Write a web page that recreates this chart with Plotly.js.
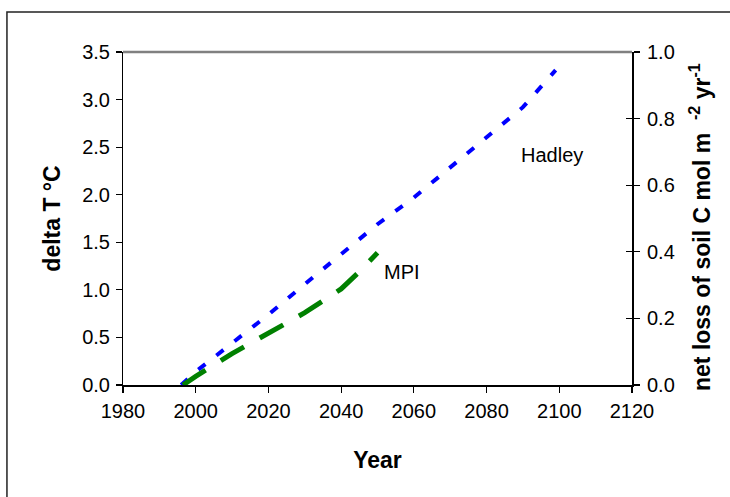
<!DOCTYPE html>
<html>
<head>
<meta charset="utf-8">
<script src="https://cdn.plot.ly/plotly-3.0.1.min.js"></script>
<style>
  html, body { margin: 0; padding: 0; background: #fff; }
  #chart { width: 730px; height: 497px; }
</style>
</head>
<body>
<div id="chart"></div>
<script>
// Hadley model (delta T, °C)
const hadleyYears = [1996, 2000, 2010, 2020, 2030, 2040, 2050, 2060, 2070, 2080, 2090, 2099];
const hadleyValues = [0.0, 0.14, 0.44, 0.74, 1.06, 1.37, 1.69, 1.97, 2.29, 2.61, 2.92, 3.31];
// MPI model (delta T, °C)
const mpiYears = [1996.5, 2000, 2010, 2020, 2030, 2040, 2045, 2050];
const mpiValues = [0.0, 0.09, 0.33, 0.55, 0.76, 1.01, 1.19, 1.39];

const seriesNames = ['Hadley', 'MPI'];
const xTickVals = [1980, 2000, 2020, 2040, 2060, 2080, 2100, 2120];
const leftTickVals = [0, 0.5, 1.0, 1.5, 2.0, 2.5, 3.0, 3.5];
const rightTickVals = [0, 0.2, 0.4, 0.6, 0.8, 1.0];
const rightTitle = '<b>net loss of soil C mol m  <sup>-2</sup> yr<sup>-1</sup></b>';

const FONT = 'Liberation Sans, Arial, sans-serif';
const ML = 110, MR = 84, MT = 52, MB = 100;
const PW = 730 - ML - MR, PH = 497 - MT - MB;
const XDOM = [(123 - ML) / PW, (632 - ML) / PW];
const YDOM = [(497 - MB - 385) / PH, 1];

const traces = [
  {
    x: hadleyYears, y: hadleyValues, name: seriesNames[0],
    type: 'scatter', mode: 'lines',
    line: { color: '#0000FF', width: 4, dash: '9px,14px' },
    xaxis: 'x', yaxis: 'y'
  },
  {
    x: mpiYears, y: mpiValues, name: seriesNames[1],
    type: 'scatter', mode: 'lines',
    line: { color: '#008000', width: 5, dash: '27px,18px' },
    xaxis: 'x', yaxis: 'y'
  },
  // empty traces so that the extra axes (labels, right scale, tick marks) are drawn
  { x: [null], y: [null], type: 'scatter', mode: 'lines', xaxis: 'x', yaxis: 'y2', hoverinfo: 'skip', showlegend: false },
  { x: [null], y: [null], type: 'scatter', mode: 'lines', xaxis: 'x', yaxis: 'y3', hoverinfo: 'skip', showlegend: false },
  { x: [null], y: [null], type: 'scatter', mode: 'lines', xaxis: 'x', yaxis: 'y4', hoverinfo: 'skip', showlegend: false },
  { x: [null], y: [null], type: 'scatter', mode: 'lines', xaxis: 'x', yaxis: 'y5', hoverinfo: 'skip', showlegend: false },
  { x: [null], y: [null], type: 'scatter', mode: 'lines', xaxis: 'x2', yaxis: 'y', hoverinfo: 'skip', showlegend: false }
];

const layout = {
  width: 730, height: 497,
  margin: { l: ML, r: MR, t: MT, b: MB },
  paper_bgcolor: '#ffffff', plot_bgcolor: '#ffffff',
  showlegend: false,
  font: { family: FONT, size: 20, color: '#000' },
  // x axis line and tick marks
  xaxis: {
    domain: XDOM, range: [1980, 2120], tickvals: xTickVals, anchor: 'y4',
    showgrid: false, zeroline: false, showline: true, linecolor: '#000', linewidth: 1.5,
    ticks: 'outside', ticklen: 6, tickcolor: '#000', tickwidth: 1.2,
    showticklabels: false, automargin: false
  },
  // x tick labels and title
  xaxis2: {
    domain: XDOM, range: [1980, 2120], tickvals: xTickVals, ticktext: xTickVals.map(String),
    overlaying: 'x', anchor: 'free', position: 0, side: 'bottom',
    showgrid: false, zeroline: false, showline: false, ticks: '',
    tickfont: { family: FONT, size: 20 },
    title: { text: '<b>Year</b>', font: { family: FONT, size: 23 }, standoff: 30 },
    automargin: false
  },
  // left tick labels and title
  yaxis: {
    domain: YDOM, range: [0, 3.5], tickvals: leftTickVals, ticktext: leftTickVals.map(v => v.toFixed(1)),
    anchor: 'free', position: 0, side: 'left',
    showgrid: false, zeroline: false, showline: false, ticks: '',
    tickfont: { family: FONT, size: 20 },
    title: { text: '<b>delta T °C</b>', font: { family: FONT, size: 23 }, standoff: 14 },
    automargin: false
  },
  // left axis line and tick marks
  yaxis4: {
    domain: YDOM, range: [0, 3.5], tickvals: leftTickVals, overlaying: 'y', side: 'left', anchor: 'x',
    showgrid: false, zeroline: false, showline: true, linecolor: '#000', linewidth: 1.5,
    ticks: 'outside', ticklen: 6, tickcolor: '#000', tickwidth: 1.2,
    showticklabels: false, automargin: false
  },
  // right scale tick labels
  yaxis2: {
    domain: YDOM, range: [0, 1], tickvals: rightTickVals, ticktext: rightTickVals.map(v => v.toFixed(1)),
    overlaying: 'y', side: 'right', anchor: 'free', position: 1,
    showgrid: false, zeroline: false, showline: false, ticks: '',
    tickfont: { family: FONT, size: 20 },
    automargin: false
  },
  // right axis line and outward tick marks
  yaxis3: {
    domain: YDOM, range: [0, 1], tickvals: rightTickVals,
    overlaying: 'y', side: 'right', anchor: 'x',
    showgrid: false, zeroline: false, showline: true, linecolor: '#000', linewidth: 1.5,
    ticks: 'outside', ticklen: 6, tickcolor: '#000', tickwidth: 1.2,
    showticklabels: false, automargin: false
  },
  // inward half of the crossing right tick marks
  yaxis5: {
    domain: YDOM, range: [0, 1], tickvals: rightTickVals,
    overlaying: 'y', side: 'right', anchor: 'x',
    showgrid: false, zeroline: false, showline: false,
    ticks: 'inside', ticklen: 6, tickcolor: '#000', tickwidth: 1.2,
    showticklabels: false, automargin: false
  },
  annotations: [
    { x: 2098, y: 2.42, xref: 'x', yref: 'y', text: seriesNames[0], showarrow: false,
      font: { family: FONT, size: 20, color: '#000' } },
    { x: 2056.8, y: 1.19, xref: 'x', yref: 'y', text: seriesNames[1], showarrow: false,
      font: { family: FONT, size: 20, color: '#000' } },
    // right-axis title
    { x: (700 - ML) / PW, y: (497 - MB - 227) / PH, xref: 'paper', yref: 'paper',
      xanchor: 'center', yanchor: 'middle', textangle: -90, showarrow: false,
      text: rightTitle, font: { family: FONT, size: 23, color: '#000' } }
  ],
  shapes: [
    { type: 'line', xref: 'x domain', yref: 'y domain', x0: 0, x1: 1, y0: 1, y1: 1,
      line: { color: '#808080', width: 2.5 } },
    { type: 'path', xref: 'x domain', yref: 'y domain',
      path: 'M -0.228 -0.6 L -0.228 1.12 L 1.3 1.12',
      line: { color: '#222', width: 1.5 } }
  ]
};

Plotly.newPlot('chart', traces, layout, { displayModeBar: false, staticPlot: true });
</script>
</body>
</html>
